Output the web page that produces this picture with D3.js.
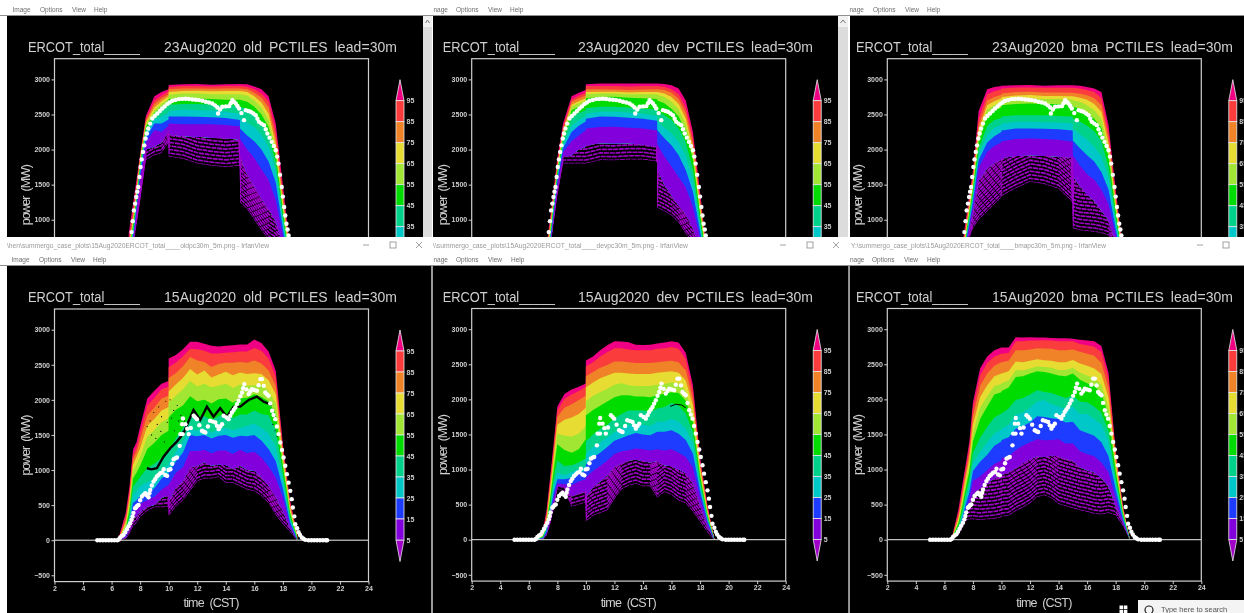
<!DOCTYPE html>
<html>
<head>
<meta charset="utf-8">
<style>
  html, body { margin: 0; padding: 0; background: #fff; overflow: hidden; }
  svg { display: block; filter: blur(0.55px); }
</style>
<script src="https://cdn.jsdelivr.net/npm/d3@7"></script>
</head>
<body>
<script>
// shared axis ticks and legend
const xTicks = [2, 4, 6, 8, 10, 12, 14, 16, 18, 20, 22, 24];
const yTicks = [-500, 0, 500, 1000, 1500, 2000, 2500, 3000];
const legendLevels = [95, 85, 75, 65, 55, 45, 35, 25, 15, 5];
const bandColors = ["#f00082", "#fa3c3c", "#f08228", "#e6dc32", "#a0e632", "#00dc00", "#00d28c", "#00c8c8", "#1e3cff", "#8200dc", "#a000c8"];

// knot times for the percentile rows
const time23 = [7.2, 7.6, 8, 8.4, 9, 9.5, 9.99, 10, 11, 12, 13, 14, 14.99, 15, 15.5, 16, 16.5, 17, 17.5, 18, 18.5];
const time15 = [6.5, 7, 7.25, 7.5, 7.75, 8, 8.5, 9, 9.5, 9.99, 10, 10.5, 11, 11.5, 12, 12.5, 13, 13.5, 14, 14.5, 15, 15.5, 16, 16.5, 17, 17.5, 18, 18.5, 19];

// rows: max, p95, p85, p75, p65, p55, p45, p35, p25, p15, p5, p1
const old23 = [
  [800,1365,1930,2480,2760,2820,2860,2920,2930,2933,2925,2930,2935,2935,2930,2900,2860,2760,2370,1500,600],
  [700,1270,1900,2440,2700,2770,2830,2890,2905,2905,2900,2905,2905,2905,2895,2860,2800,2690,2270,1400,550],
  [640,1200,1880,2410,2650,2730,2790,2860,2870,2871,2865,2870,2870,2870,2860,2810,2740,2600,2170,1330,520],
  [580,1150,1850,2380,2600,2690,2760,2820,2835,2838,2830,2835,2835,2835,2820,2760,2670,2510,2080,1270,480],
  [530,1100,1820,2350,2560,2650,2720,2780,2800,2800,2790,2790,2790,2790,2770,2700,2600,2420,2000,1200,440],
  [480,1060,1790,2320,2520,2610,2680,2720,2730,2729,2720,2710,2710,2710,2680,2610,2500,2320,1920,1140,400],
  [440,1010,1750,2280,2480,2550,2620,2640,2650,2648,2640,2630,2620,2610,2570,2480,2370,2200,1820,1060,360],
  [400,960,1710,2230,2430,2470,2530,2550,2570,2562,2555,2540,2510,2450,2380,2320,2210,2040,1700,980,320],
  [370,910,1660,2170,2370,2370,2430,2470,2470,2467,2460,2450,2420,2300,2200,2120,2000,1830,1530,880,280],
  [340,860,1600,2100,2280,2250,2340,2370,2360,2362,2360,2350,2330,2150,2000,1880,1720,1570,1280,780,240],
  [310,800,1500,2000,2040,2100,2280,2220,2190,2181,2170,2160,2140,1900,1650,1480,1300,1150,980,640,200],
  [280,740,1270,1850,1920,1950,2100,1900,1870,1800,1770,1750,1770,1250,1150,1000,850,720,650,500,180]
];
const dev23 = [
  [560,1200,1880,2370,2760,2810,2850,2930,2940,2943,2940,2940,2943,2943,2935,2915,2870,2700,2250,1400,500],
  [500,1150,1810,2330,2710,2770,2810,2905,2905,2905,2900,2905,2905,2905,2895,2860,2790,2600,2170,1330,470],
  [450,1100,1770,2290,2680,2730,2770,2860,2860,2857,2850,2855,2860,2860,2850,2810,2720,2520,2090,1270,440],
  [410,1060,1740,2250,2640,2690,2730,2820,2825,2824,2815,2820,2820,2820,2800,2750,2650,2440,2010,1210,410],
  [370,1020,1710,2210,2610,2660,2700,2790,2800,2800,2790,2790,2790,2780,2750,2680,2570,2360,1940,1150,380],
  [340,980,1680,2170,2560,2610,2650,2730,2750,2752,2740,2730,2720,2700,2660,2580,2470,2260,1860,1090,350],
  [310,940,1640,2120,2450,2520,2560,2590,2610,2610,2600,2580,2570,2550,2490,2420,2300,2100,1720,1000,320],
  [280,900,1600,2070,2340,2420,2480,2510,2540,2538,2530,2510,2480,2400,2310,2230,2110,1900,1570,920,290],
  [260,860,1560,2020,2250,2340,2400,2440,2470,2467,2455,2440,2410,2280,2160,2060,1920,1710,1400,840,260],
  [240,820,1500,1960,2120,2200,2270,2300,2320,2324,2310,2300,2270,2080,1900,1760,1610,1460,1180,740,230],
  [220,780,1430,1890,1920,2000,2040,2060,2090,2086,2090,2070,2040,1720,1500,1350,1200,1080,880,620,190],
  [200,740,1350,1800,1800,1800,1800,1800,1850,1848,1860,1860,1830,1170,1120,1060,960,800,680,520,160]
];
const bma23 = [
  [560,1150,1700,2550,2860,2890,2905,2910,2915,2919,2910,2915,2915,2915,2910,2890,2870,2820,2350,1430,600],
  [500,1080,1640,2440,2790,2830,2860,2870,2885,2886,2880,2880,2880,2880,2870,2850,2820,2730,2250,1370,570],
  [450,1020,1590,2350,2700,2750,2780,2800,2820,2824,2815,2815,2810,2810,2795,2775,2730,2630,2160,1310,540],
  [410,980,1540,2270,2630,2690,2730,2750,2770,2776,2765,2765,2760,2760,2740,2710,2650,2540,2080,1250,510],
  [370,940,1490,2190,2570,2630,2670,2700,2725,2729,2720,2720,2710,2700,2680,2630,2560,2440,2000,1190,480],
  [340,900,1440,2110,2490,2560,2600,2630,2650,2657,2650,2650,2630,2610,2580,2520,2440,2310,1900,1130,450],
  [310,860,1380,2010,2340,2420,2450,2470,2490,2490,2490,2480,2470,2440,2400,2340,2260,2120,1760,1050,420],
  [280,820,1320,1930,2210,2310,2350,2370,2395,2395,2390,2385,2370,2300,2220,2140,2040,1900,1600,960,390],
  [260,780,1260,1850,2100,2190,2250,2270,2300,2300,2295,2290,2270,2130,2020,1920,1830,1680,1430,880,360],
  [240,740,1190,1740,1970,2050,2100,2120,2150,2157,2150,2140,2110,1920,1770,1650,1570,1430,1220,790,330],
  [220,700,1100,1560,1730,1810,1860,1880,1910,1920,1910,1900,1880,1620,1480,1360,1270,1130,990,680,300],
  [200,650,880,1000,1120,1220,1320,1340,1450,1540,1510,1440,1250,880,850,840,830,810,780,620,270]
];
const old15 = [
  [40,400,760,1290,1400,1620,2020,2130,2230,2270,2590,2640,2720,2830,2830,2800,2770,2760,2770,2780,2790,2790,2860,2810,2690,2420,1370,580,100],
  [20,350,700,1220,1330,1530,1920,2030,2150,2190,2470,2530,2620,2730,2720,2700,2660,2660,2670,2680,2690,2690,2740,2700,2590,2330,1310,540,80],
  [15,300,640,1150,1260,1430,1780,1890,2020,2060,2310,2380,2480,2610,2560,2540,2470,2510,2530,2530,2540,2530,2560,2520,2420,2200,1260,500,70],
  [10,260,570,1070,1190,1310,1630,1730,1850,1900,2120,2220,2310,2440,2360,2420,2320,2360,2400,2350,2390,2370,2380,2370,2280,2080,1200,470,55],
  [8,220,500,980,1080,1190,1470,1570,1680,1740,1960,2060,2150,2270,2190,2230,2180,2200,2230,2170,2220,2200,2210,2220,2130,1950,1140,430,45],
  [6,180,430,880,960,1060,1300,1390,1500,1560,1750,1860,1920,2050,1980,2000,1950,2010,2020,1960,2020,2030,2080,2040,1980,1800,1060,390,35],
  [4,150,360,770,830,900,1030,1090,1170,1250,1280,1450,1600,1780,1740,1770,1710,1770,1790,1740,1790,1790,1850,1800,1780,1570,960,340,25],
  [3,120,300,640,700,770,830,870,1010,1080,1100,1260,1410,1590,1560,1600,1530,1580,1600,1570,1600,1630,1660,1600,1520,1330,860,300,18],
  [2,90,240,530,570,630,680,740,880,950,960,1120,1250,1500,1480,1500,1450,1490,1500,1460,1490,1480,1500,1420,1300,1130,740,260,12],
  [1,60,190,400,450,520,570,620,720,790,790,960,1040,1270,1270,1290,1240,1280,1280,1230,1290,1240,1260,1180,1050,890,610,220,8],
  [1,40,140,300,340,410,480,500,600,640,550,750,840,1040,1060,1110,1060,1080,1070,1020,1060,1000,990,900,780,620,420,170,5],
  [0,20,90,200,250,330,420,470,470,480,350,480,570,700,840,880,880,900,820,820,770,720,700,630,530,360,230,120,3]
];
const dev15 = [
  [10,150,430,900,1390,1900,2075,2140,2180,2225,2555,2610,2700,2770,2830,2825,2815,2780,2775,2780,2795,2810,2830,2810,2660,2200,1180,520,10],
  [8,120,390,850,1330,1840,2010,2070,2120,2180,2470,2530,2610,2670,2730,2730,2710,2700,2700,2700,2720,2730,2745,2720,2570,2120,1130,490,8],
  [6,100,340,790,1260,1750,1880,1930,1990,2050,2330,2390,2450,2490,2540,2540,2530,2520,2520,2520,2530,2540,2550,2530,2410,2010,1080,460,7],
  [5,80,300,730,1180,1640,1710,1740,1790,1880,2170,2240,2300,2340,2380,2380,2370,2360,2360,2360,2380,2390,2400,2380,2270,1910,1030,430,6],
  [4,60,260,660,1090,1510,1480,1470,1510,1620,1970,2050,2100,2150,2210,2230,2200,2190,2190,2190,2210,2220,2240,2230,2120,1790,970,400,5],
  [3,50,220,590,1000,1360,1280,1240,1290,1430,1770,1850,1910,1970,2030,2060,2060,2040,2040,2030,2060,2080,2100,2090,1980,1670,910,370,4],
  [2,40,180,510,880,1130,1050,1060,1100,1160,1400,1500,1580,1640,1730,1790,1840,1840,1840,1820,1870,1890,1950,1910,1800,1530,840,340,3],
  [2,30,150,440,780,960,920,960,1010,1060,1220,1320,1390,1460,1530,1590,1630,1650,1640,1620,1680,1680,1720,1680,1580,1370,770,310,2],
  [1,25,120,390,680,860,860,880,940,990,1070,1170,1240,1320,1410,1450,1490,1520,1500,1490,1540,1540,1560,1510,1420,1230,700,280,2],
  [1,20,100,340,600,800,790,780,830,860,890,980,1050,1130,1220,1260,1275,1300,1290,1270,1290,1270,1290,1240,1180,1030,610,240,1],
  [1,15,80,280,500,750,750,620,660,690,620,750,830,920,1040,1090,1130,1140,1120,1100,1120,1060,1050,1000,950,810,490,190,1],
  [0,10,60,220,440,720,690,470,500,530,260,340,380,420,580,720,770,800,760,760,600,680,640,560,520,400,260,110,0]
];
const bma15 = [
  [10,450,780,1080,1400,1960,2440,2610,2700,2740,2740,2740,2885,2880,2885,2880,2880,2875,2870,2870,2865,2850,2840,2830,2760,2380,1280,500,0],
  [8,400,720,1020,1330,1880,2340,2520,2610,2650,2650,2660,2830,2830,2840,2840,2843,2840,2830,2830,2830,2790,2770,2750,2670,2300,1240,480,0],
  [6,350,650,950,1240,1760,2190,2370,2480,2530,2530,2550,2700,2700,2710,2730,2724,2720,2700,2700,2710,2680,2650,2620,2520,2160,1180,450,0],
  [5,310,590,880,1150,1640,2030,2200,2330,2370,2370,2400,2540,2530,2550,2570,2558,2550,2530,2530,2560,2510,2480,2440,2360,2020,1110,430,0],
  [4,270,530,810,1060,1520,1880,2040,2190,2220,2230,2270,2420,2410,2440,2470,2463,2450,2420,2420,2450,2380,2340,2300,2210,1880,1040,410,0],
  [3,240,480,740,980,1400,1720,1900,2070,2100,2120,2170,2320,2330,2370,2400,2391,2370,2340,2330,2370,2280,2230,2190,2090,1770,980,390,0],
  [2,200,410,660,870,1240,1450,1610,1740,1800,1800,1870,1990,2020,2070,2130,2106,2090,2050,2020,2060,1970,1960,1900,1810,1550,880,360,0],
  [2,170,350,580,770,1090,1250,1390,1510,1570,1580,1640,1780,1810,1880,1970,1987,1930,1900,1860,1900,1790,1790,1720,1640,1400,810,330,0],
  [1,140,300,510,680,980,1110,1210,1340,1400,1420,1460,1580,1620,1670,1760,1749,1730,1720,1670,1680,1560,1520,1480,1390,1190,720,300,0],
  [1,110,250,430,580,840,900,990,1080,1130,1160,1190,1280,1340,1390,1430,1417,1420,1430,1370,1370,1260,1220,1190,1100,960,600,270,0],
  [0,90,210,360,490,650,730,800,880,920,920,960,1020,1090,1150,1190,1179,1200,1190,1150,1130,1030,990,960,880,760,480,240,0],
  [0,70,170,270,290,290,280,290,300,320,330,340,410,460,520,610,632,590,510,480,450,420,400,370,360,380,350,200,0]
];

// observed power, white dots
const obsTime23 = [7.2,7.3,7.4,7.48,7.56,7.65,7.73,7.8,7.87,7.95,8.03,8.11,8.2,8.29,8.38,8.47,8.57,8.7,8.85,9.02,9.2,9.38,9.55,9.72,9.9,10.07,10.25,10.48,10.72,10.95,11.19,11.42,11.66,11.9,12.12,12.36,12.6,12.83,13.06,13.25,13.41,13.46,13.6,13.76,14,14.23,14.35,14.46,14.58,14.7,14.82,14.93,15.1,15.28,15.4,15.58,15.75,15.93,16.1,16.22,16.33,16.5,16.68,16.8,16.92,17.07,17.22,17.36,17.5,17.6,17.69,17.8,17.92,18.0,18.09,18.17,18.25,18.33,18.4];
const obsPower23 = [480,650,824,980,1133,1230,1324,1400,1467,1610,1752,1860,1967,2060,2157,2230,2300,2370,2443,2480,2514,2550,2586,2615,2648,2670,2695,2707,2719,2722,2724,2720,2714,2710,2705,2695,2681,2670,2657,2630,2600,2514,2570,2610,2615,2619,2660,2705,2680,2657,2620,2586,2520,2419,2562,2550,2538,2515,2490,2440,2395,2370,2348,2290,2229,2170,2110,2050,1990,1900,1800,1640,1467,1330,1181,1060,943,860,776];
const obsTime15 = [5,5.2,5.4,5.6,5.8,6,6.2,6.4,6.5,6.6,6.72,6.84,6.95,7.07,7.18,7.3,7.4,7.47,7.53,7.65,7.72,7.8,7.89,8,8.12,8.25,8.36,8.47,8.59,8.65,8.71,8.82,8.94,9.05,9.17,9.29,9.41,9.55,9.65,9.76,9.89,9.99,10.12,10.25,10.35,10.47,10.58,10.77,10.82,10.94,10.98,11,11.17,11.3,11.4,11.55,11.75,11.87,11.98,12.15,12.33,12.45,12.57,12.75,12.9,13.1,13.27,13.38,13.5,13.62,13.74,13.85,14.05,14.2,14.32,14.43,14.55,14.67,14.78,14.9,15.02,15.14,15.22,15.3,15.45,15.6,15.72,15.84,16,16.18,16.3,16.42,16.54,16.66,16.77,16.88,17,17.12,17.24,17.35,17.47,17.58,17.7,17.82,17.94,18.05,18.17,18.28,18.4,18.52,18.62,18.7,18.8,18.87,19,19.1,19.2,19.33,19.45,19.57,19.8,20,20.2,20.4,20.6,20.8,21,21.1];
const obsPower15 = [0,0,0,0,0,0,0,0,10,40,60,76,115,157,200,242,290,337,390,456,470,490,503,570,622,650,669,640,612,670,717,780,835,870,907,930,954,965,1012,930,917,1002,1012,1090,1155,1170,1179,1345,1512,1654,1512,1735,1654,1590,1512,1600,1773,1750,1725,1640,1559,1545,1535,1620,1702,1690,1678,1630,1583,1620,1654,1773,1750,1725,1775,1820,1855,1892,1940,1987,2050,2106,2165,2225,2150,2082,2120,2153,2140,2129,2210,2296,2296,2200,2106,2080,2058,1950,1845,1785,1725,1620,1512,1393,1285,1179,1060,941,820,703,585,466,340,228,170,114,75,38,20,5,0,0,0,0,0,0,0,0];

// dark percentile line, and specks of unpainted pixels
const blackTimeOld = [8.47,8.8,9.17,9.64,10.11,10.57,11.04,11.4,11.74,12.21,12.68,13.14,13.61,14.08,14.55,15.01,15.6,16.18,16.65,17.23];
const blackPowerOld = [1025,1010,1025,1191,1310,1405,1524,1700,1856,1714,1904,1761,1880,1761,1904,1904,1998,2046,1975,1927];
const blackTimeDev = [15.9,16.3,16.7,17.0];
const blackPowerDev = [1900,1930,1920,1880];
const speckTimeOld = [8.5,8.7,8.8,8.95,9.1,9.2,9.3,9.45,9.5,9.7,9.8,9.9,10.1,10.2,10.35,10.4,10.6,10.7,10.85,11,11.1,11.2,17.3,17.5,17.45,17.6];
const speckPowerOld = [1620,1700,1500,1820,1450,1650,1900,1550,1760,1400,1980,1680,2000,1740,1850,1560,1920,1700,1780,1550,1700,1620,1650,1750,1560,1480];

const width = 1244;
const height = 613;
const frameWidth = 314;
const frameHeight = 272.6;
const topCut = 237;

const grey = "#cfcfcf";
const font = "'Liberation Sans', sans-serif";

const svg = d3.select("body").append("svg")
  .attr("width", width)
  .attr("height", height)
  .attr("viewBox", [0, 0, width, height]);
svg.append("rect").attr("width", width).attr("height", height).attr("fill", "#fff");

// column placement: frame left, title pieces start/end
const columns = [
  { left: 54.5, a: 28, b: 140, c: 164, d: 397 },
  { left: 471.7, a: 442.7, b: 555, c: 578, d: 813 },
  { left: 887.3, a: 856, b: 968, c: 992, d: 1233 }
];

const drawPanel = (root, col, frameTop, date, model, time, rows, obsTime, obsPower, id, cut) => {
  const x = d3.scaleLinear().domain([2, 24]).range([col.left, col.left + frameWidth]);
  const y = d3.scaleLinear().domain([-590, 3295]).range([frameTop + frameHeight, frameTop]);

  const g = root.append("g").attr("class", "panel");

  // title
  const titleY = frameTop - 7;
  g.append("text").attr("x", col.a).attr("y", titleY).text("ERCOT_total_____")
    .attr("textLength", col.b - col.a).attr("lengthAdjust", "spacingAndGlyphs")
    .attr("fill", grey).attr("font-family", font).attr("font-size", 14);
  g.append("text").attr("x", col.c).attr("y", titleY).text(`${date} ${model} PCTILES lead=30m`)
    .attr("textLength", col.d - col.c).attr("lengthAdjust", "spacing")
    .attr("word-spacing", 3)
    .attr("fill", grey).attr("font-family", font).attr("font-size", 14);

  // percentile bands, upper edge down to p5
  const p5 = rows[10];
  const p1 = rows[11];
  const clipId = `clip-${id}`;
  const tailId = `tail-${id}`;
  const defs = g.append("defs");
  defs.append("clipPath").attr("id", clipId).append("rect")
    .attr("x", col.left).attr("y", frameTop).attr("width", frameWidth).attr("height", frameHeight);

  const plot = g.append("g").attr("clip-path", `url(#${clipId})`);
  rows.slice(0, 10).forEach((row, i) => {
    const area = d3.area().x((d, j) => x(time[j])).y0((d, j) => y(p5[j])).y1((d) => y(d));
    plot.append("path").attr("d", area(row)).attr("fill", bandColors[i]);
  });

  // low tail: the p1 edge repeated upward, kept inside the p1-p5 band
  const tailArea = d3.area().x((d, j) => x(time[j])).y0((d, j) => y(p1[j])).y1((d) => y(d));
  defs.append("clipPath").attr("id", tailId).append("path").attr("d", tailArea(p5));
  const tailLine = d3.line().x((d, j) => x(time[j])).y((d) => y(d));
  const tail = plot.append("g").attr("clip-path", `url(#${tailId})`);
  d3.range(0, 28).forEach((k) => {
    tail.append("path").attr("d", tailLine(p1))
      .attr("transform", `translate(0,${-k * 3.6})`)
      .attr("fill", "none").attr("stroke", bandColors[10])
      .attr("stroke-width", 1.5 + k * 0.06).attr("stroke-dasharray", "5 0.7")
      .attr("stroke-dashoffset", k * 2.3);
  });

  // zero line
  plot.append("line").attr("x1", x(2)).attr("x2", x(24)).attr("y1", y(0)).attr("y2", y(0))
    .attr("stroke", "#eee").attr("stroke-width", 1);

  // dark line and specks on the 15Aug old/dev pictures
  if (id === "old15") {
    plot.append("path").datum(blackPowerOld)
      .attr("d", d3.line().x((d, j) => x(blackTimeOld[j])).y((d) => y(d)))
      .attr("fill", "none").attr("stroke", "#000").attr("stroke-width", 2.4);
    plot.selectAll("circle.speck").data(speckPowerOld).join("circle").attr("class", "speck")
      .attr("cx", (d, j) => x(speckTimeOld[j])).attr("cy", (d) => y(d)).attr("r", 0.6).attr("fill", "#000");
  }
  if (id === "dev15") {
    plot.append("path").datum(blackPowerDev)
      .attr("d", d3.line().x((d, j) => x(blackTimeDev[j])).y((d) => y(d)))
      .attr("fill", "none").attr("stroke", "#000").attr("stroke-width", 1);
  }

  // observations
  plot.selectAll("circle.obs").data(obsPower).join("circle").attr("class", "obs")
    .attr("cx", (d, j) => x(obsTime[j])).attr("cy", (d) => y(d)).attr("r", 2.2).attr("fill", "#fff");

  // frame
  g.append("rect").attr("x", col.left).attr("y", frameTop).attr("width", frameWidth).attr("height", frameHeight)
    .attr("fill", "none").attr("stroke", grey).attr("stroke-width", 1.2);

  // axes, only what the overlapping window leaves visible
  const axisY = g.append("g").attr("transform", `translate(${col.left},0)`)
    .call(d3.axisLeft(y).tickValues(yTicks.filter((d) => y(d) < cut)).tickFormat(d3.format("d"))
      .tickSize(3).tickSizeOuter(0).tickPadding(1.5));
  axisY.select(".domain").remove();
  const axes = [axisY];
  if (frameTop + frameHeight < cut) {
    const axisX = g.append("g").attr("transform", `translate(0,${frameTop + frameHeight})`)
      .call(d3.axisBottom(x).tickValues(xTicks).tickSize(3).tickSizeOuter(0).tickPadding(1));
    axisX.select(".domain").remove();
    axes.push(axisX);
    g.append("text").attr("x", col.left + 157).attr("y", frameTop + 298)
      .attr("text-anchor", "middle").text("time (CST)")
      .attr("textLength", 56).attr("word-spacing", 3).attr("fill", grey).attr("font-family", font).attr("font-size", 12.5);
  }
  axes.forEach((a) => {
    a.selectAll("line").attr("stroke", grey);
    a.selectAll("text").attr("fill", grey).attr("font-family", font).attr("font-size", 7).attr("font-weight", 700);
  });

  g.append("text").attr("transform", `translate(${col.left - 25},${frameTop + 136}) rotate(-90)`)
    .attr("text-anchor", "middle").text("power (MW)")
    .attr("textLength", 61).attr("word-spacing", 3).attr("fill", grey).attr("font-family", font).attr("font-size", 12.5);

  // colour bar
  const barX = col.left + 341.5;
  const barW = 8;
  const bar = d3.scaleLinear().domain([5, 95]).range([frameTop + 231, frameTop + 42]);
  const barG = g.append("g").attr("stroke", "#e8e8e8").attr("stroke-width", 0.8);
  barG.append("path").attr("fill", bandColors[0])
    .attr("d", `M${barX},${bar(95)}L${barX + barW / 2},${bar(95) - 21}L${barX + barW},${bar(95)}Z`);
  barG.append("path").attr("fill", bandColors[10])
    .attr("d", `M${barX},${bar(5)}L${barX + barW / 2},${bar(5) + 21.5}L${barX + barW},${bar(5)}Z`);
  barG.selectAll("rect").data(legendLevels.slice(0, 9)).join("rect")
    .attr("x", barX).attr("width", barW)
    .attr("y", (d) => bar(d)).attr("height", (d) => bar(d - 10) - bar(d))
    .attr("fill", (d, i) => bandColors[i + 1]);
  g.selectAll("text.cb").data(legendLevels.filter((d) => bar(d) < cut - 3)).join("text").attr("class", "cb")
    .attr("x", barX + barW + 2.5).attr("y", (d) => bar(d) + 2.5).text((d) => d)
    .attr("fill", grey).attr("font-family", font).attr("font-size", 7).attr("font-weight", 700);
};

const menuWords = ["Options", "View", "Help"];
const drawMenu = (y, firstWord, firstX, wordX) => {
  const menu = [firstWord, ...menuWords];
  svg.append("g").selectAll("text").data(menu).join("text")
    .attr("x", (d, i) => (i === 0 ? firstX : wordX[i - 1])).attr("y", y)
    .text((d) => d).attr("fill", "#6e6e6e").attr("font-family", font).attr("font-size", 6.5);
};

// top row windows
const topFrame = 58.7;
const topBlack = [[7, 423], [433, 838], [850, 1244]];
topBlack.forEach(([a, b]) => {
  svg.append("rect").attr("x", a).attr("y", 16).attr("width", b - a).attr("height", 222).attr("fill", "#000");
});
[[423, 432], [838, 848]].forEach(([a, b]) => {
  svg.append("rect").attr("x", a).attr("y", 16).attr("width", b - a).attr("height", 222).attr("fill", "#dcdcdc");
  svg.append("rect").attr("x", a).attr("y", 16).attr("width", b - a).attr("height", 11).attr("fill", "#f0f0f0");
  svg.append("path").attr("d", `M${a + 2.5},23L${(a + b) / 2},20L${b - 2.5},23`)
    .attr("fill", "none").attr("stroke", "#777").attr("stroke-width", 1);
});
drawPanel(svg, columns[0], topFrame, "23Aug2020", "old", time23, old23, obsTime23, obsPower23, "old23", topCut);
drawPanel(svg, columns[1], topFrame, "23Aug2020", "dev", time23, dev23, obsTime23, obsPower23, "dev23", topCut);
drawPanel(svg, columns[2], topFrame, "23Aug2020", "bma", time23, bma23, obsTime23, obsPower23, "bma23", topCut);

svg.append("rect").attr("x", 0).attr("y", 0).attr("width", width).attr("height", 15.5).attr("fill", "#fff");
svg.append("rect").attr("x", 0).attr("y", 15).attr("width", width).attr("height", 1).attr("fill", "#8f8f8f");
drawMenu(11.5, "Image", 12.5, [40, 72, 94]);
drawMenu(11.5, "nage", 433.5, [456, 488, 510]);
drawMenu(11.5, "nage", 849.5, [873, 905, 927]);

// title bars over the top row, then the bottom row windows
svg.append("rect").attr("x", 0).attr("y", 237).attr("width", width).attr("height", 376).attr("fill", "#fff");
const titleBars = [
  { x: 7, text: "\\hen\\summergo_case_plots\\15Aug2020ERCOT_total____oldpc30m_5m.png - IrfanView", w: 262, btn: [366, 393, 419] },
  { x: 433, text: "\\\\summergo_case_plots\\15Aug2020ERCOT_total____devpc30m_5m.png - IrfanView", w: 255, btn: [783, 810, 836] },
  { x: 851, text: "Y:\\summergo_case_plots\\15Aug2020ERCOT_total____bmapc30m_5m.png - IrfanView", w: 255, btn: [1200, 1226] }
];
titleBars.forEach((t) => {
  svg.append("text").attr("x", t.x).attr("y", 247.5).text(t.text)
    .attr("textLength", t.w).attr("lengthAdjust", "spacingAndGlyphs")
    .attr("fill", "#9a9a9a").attr("font-family", font).attr("font-size", 6.5);
  const icons = svg.append("g").attr("fill", "none").attr("stroke", "#8a8a8a").attr("stroke-width", 0.8);
  icons.append("line").attr("x1", t.btn[0] - 3).attr("x2", t.btn[0] + 3).attr("y1", 245).attr("y2", 245);
  icons.append("rect").attr("x", t.btn[1] - 3).attr("y", 242).attr("width", 6).attr("height", 6);
  if (t.btn[2]) {
    icons.append("path").attr("d", `M${t.btn[2] - 3},242L${t.btn[2] + 3},248M${t.btn[2] + 3},242L${t.btn[2] - 3},248`);
  }
});
drawMenu(261.5, "Image", 11.5, [39, 71, 93]);
drawMenu(261.5, "nage", 433.5, [456, 488, 511]);
drawMenu(261.5, "nage", 850, [872, 904, 927]);
svg.append("rect").attr("x", 0).attr("y", 265).attr("width", width).attr("height", 1).attr("fill", "#8f8f8f");

[[7, 431], [433, 848.5], [850, 1244]].forEach(([a, b]) => {
  svg.append("rect").attr("x", a).attr("y", 266).attr("width", b - a).attr("height", 347).attr("fill", "#000");
});
svg.append("rect").attr("x", 431).attr("y", 266).attr("width", 2).attr("height", 347).attr("fill", "#9a9a9a");
svg.append("rect").attr("x", 848.5).attr("y", 266).attr("width", 1.5).attr("height", 347).attr("fill", "#9a9a9a");

drawPanel(svg, columns[0], 309, "15Aug2020", "old", time15, old15, obsTime15, obsPower15, "old15", height);
drawPanel(svg, columns[1], 308.5, "15Aug2020", "dev", time15, dev15, obsTime15, obsPower15, "dev15", height);
drawPanel(svg, columns[2], 308.5, "15Aug2020", "bma", time15, bma15, obsTime15, obsPower15, "bma15", height);

// windows taskbar corner
[[1119.5, 605.5], [1123.8, 605.5], [1119.5, 609.8], [1123.8, 609.8]].forEach(([a, b]) => {
  svg.append("rect").attr("x", a).attr("y", b).attr("width", 3.6).attr("height", 3.6).attr("fill", "#fff");
});
svg.append("rect").attr("x", 1138).attr("y", 600).attr("width", 106).attr("height", 13).attr("fill", "#f4f4f4");
svg.append("circle").attr("cx", 1149).attr("cy", 610).attr("r", 4).attr("fill", "none").attr("stroke", "#222").attr("stroke-width", 1.2);
svg.append("text").attr("x", 1161).attr("y", 612).text("Type here to search")
  .attr("fill", "#555").attr("font-family", font).attr("font-size", 7.5);
</script>
</body>
</html>
